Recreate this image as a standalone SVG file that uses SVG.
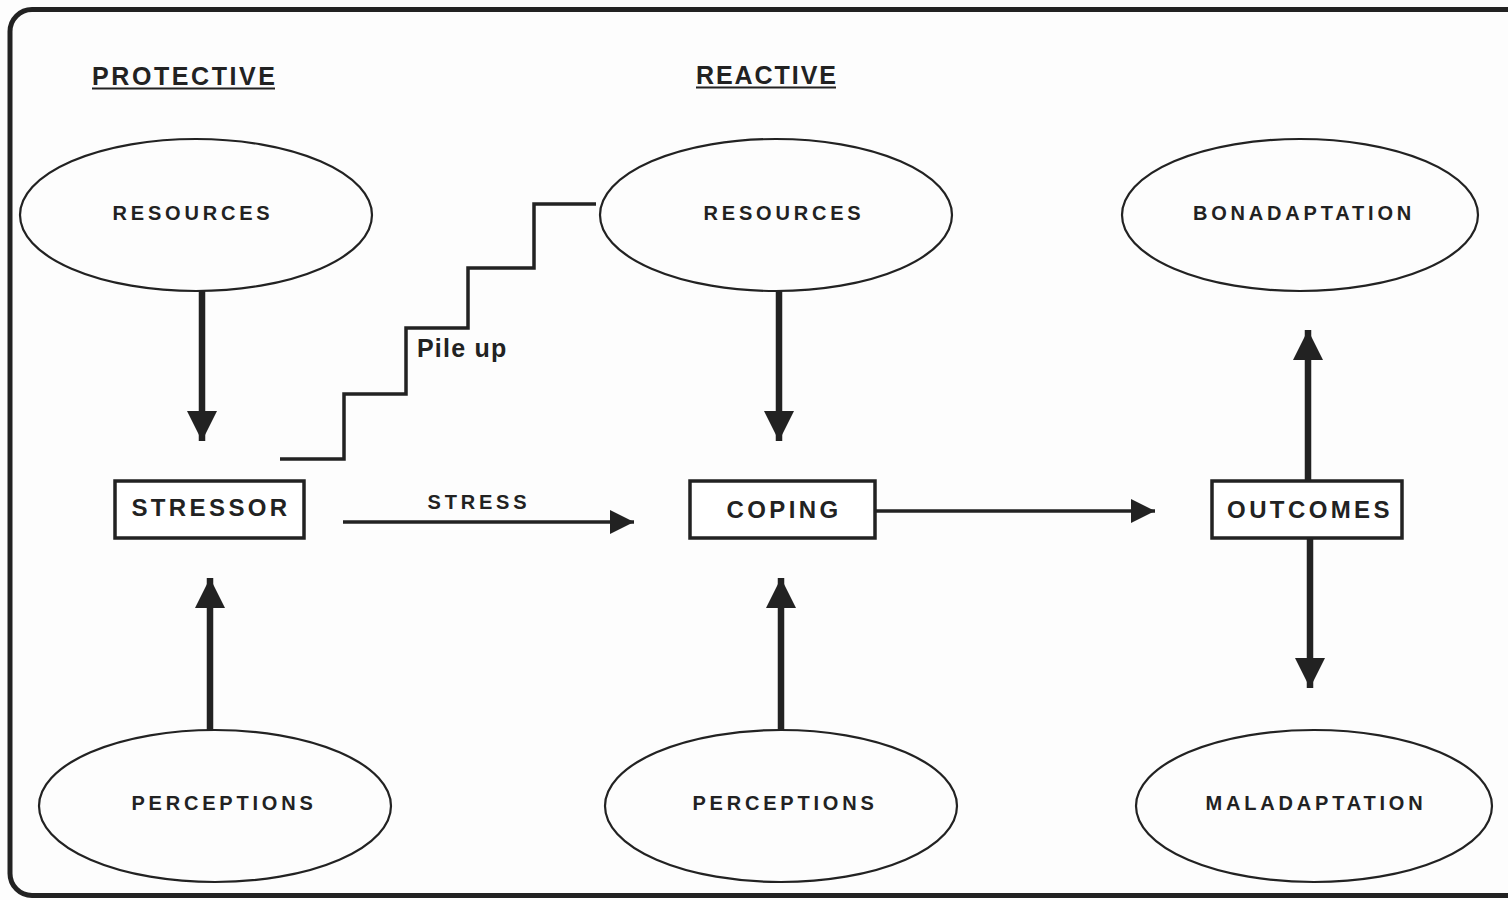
<svg xmlns="http://www.w3.org/2000/svg" width="1508" height="900" viewBox="0 0 1508 900">
<style>
.t{font-family:"Liberation Sans",Arial,sans-serif;font-weight:bold;fill:#222;}
.el{font-size:20px;letter-spacing:3.8px;text-anchor:middle;}
.bx{font-size:24px;letter-spacing:3.4px;text-anchor:middle;}
.hd{font-size:25px;}
.ell{fill:none;stroke:#222;stroke-width:2.2;}
.box{fill:#fff;stroke:#222;stroke-width:3.5;}
.thick{stroke:#222;stroke-width:6.5;fill:none;}
.thin{stroke:#222;stroke-width:3.5;fill:none;}
</style>
<defs>
<marker id="big" viewBox="0 0 10 10" refX="10" refY="5" markerUnits="userSpaceOnUse" markerWidth="37" markerHeight="30" orient="auto">
<path d="M0,0 L10,5 L0,10 Z" fill="#222"/>
</marker>
<marker id="small" viewBox="0 0 10 10" refX="10" refY="5" markerUnits="userSpaceOnUse" markerWidth="31" markerHeight="24" orient="auto">
<path d="M0,0 L10,5 L0,10 Z" fill="#222"/>
</marker>
</defs>
<rect x="0" y="0" width="1508" height="900" fill="#fdfdfd"/>
<rect x="10" y="9.5" width="1530" height="886" rx="22" ry="22" fill="none" stroke="#222" stroke-width="5"/>

<g id="headings">
<text class="t hd" x="92" y="85" textLength="183" lengthAdjust="spacing">PROTECTIVE</text>
<line x1="92" y1="88.5" x2="275" y2="88.5" stroke="#222" stroke-width="2"/>
<text class="t hd" x="696" y="84" textLength="140" lengthAdjust="spacing">REACTIVE</text>
<line x1="696" y1="87.5" x2="836" y2="87.5" stroke="#222" stroke-width="2"/>
</g>

<g id="connectors">
<line class="thick" x1="202" y1="291" x2="202" y2="441" marker-end="url(#big)"/>
<line class="thick" x1="779" y1="291" x2="779" y2="441" marker-end="url(#big)"/>
<line class="thick" x1="210" y1="730" x2="210" y2="578" marker-end="url(#big)"/>
<line class="thick" x1="781" y1="730" x2="781" y2="578" marker-end="url(#big)"/>
<line class="thick" x1="1308" y1="481" x2="1308" y2="330" marker-end="url(#big)"/>
<line class="thick" x1="1310" y1="538" x2="1310" y2="688" marker-end="url(#big)"/>
<line class="thin" x1="343" y1="522" x2="634" y2="522" marker-end="url(#small)"/>
<line class="thin" x1="876" y1="511" x2="1155" y2="511" marker-end="url(#small)"/>
<polyline class="thin" points="280,459 344,459 344,394 406,394 406,328 468,328 468,268 534,268 534,204 596,204"/>
<text class="t" x="417" y="357" font-size="25" letter-spacing="1.2">Pile up</text>
<text class="t el" x="479" y="509">STRESS</text>
</g>

<g id="resources-protective">
<ellipse class="ell" cx="196" cy="215" rx="176" ry="76"/>
<text class="t el" x="193" y="220">RESOURCES</text>
</g>
<g id="resources-reactive">
<ellipse class="ell" cx="776" cy="215" rx="176" ry="76"/>
<text class="t el" x="784" y="220">RESOURCES</text>
</g>
<g id="bonadaptation">
<ellipse class="ell" cx="1300" cy="215" rx="178" ry="76"/>
<text class="t el" x="1304" y="220">BONADAPTATION</text>
</g>
<g id="perceptions-protective">
<ellipse class="ell" cx="215" cy="806" rx="176" ry="76"/>
<text class="t el" x="224" y="810">PERCEPTIONS</text>
</g>
<g id="perceptions-reactive">
<ellipse class="ell" cx="781" cy="806" rx="176" ry="76"/>
<text class="t el" x="785" y="810">PERCEPTIONS</text>
</g>
<g id="maladaptation">
<ellipse class="ell" cx="1314" cy="806" rx="178" ry="76"/>
<text class="t el" x="1316" y="810">MALADAPTATION</text>
</g>

<g id="stressor">
<rect class="box" x="115" y="481" width="189" height="57"/>
<text class="t bx" x="211" y="516">STRESSOR</text>
</g>
<g id="coping">
<rect class="box" x="690" y="481" width="185" height="57"/>
<text class="t bx" x="784" y="518">COPING</text>
</g>
<g id="outcomes">
<rect class="box" x="1212" y="481" width="190" height="57"/>
<text class="t bx" x="1310" y="518">OUTCOMES</text>
</g>
</svg>
